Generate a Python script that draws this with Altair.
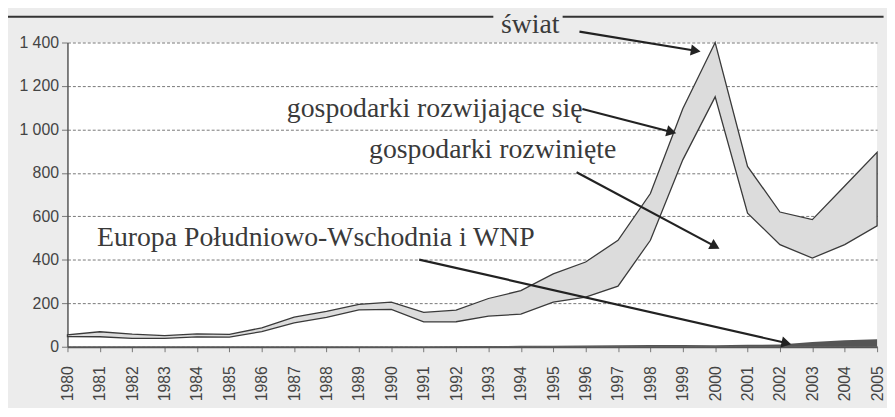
import altair as alt
import pandas as pd

# ---- data (bn USD) ----
years = list(range(1980, 2006))
world = [55, 69, 58, 51, 59, 57, 87, 136, 163, 195, 205, 158, 168, 222, 258, 335,
         390, 490, 705, 1095, 1400, 830, 620, 585, 740, 895]
developed = [47, 46, 38, 38, 45, 44, 70, 110, 135, 170, 172, 114, 113, 138, 146, 200,
             222, 272, 482, 852, 1143, 606, 460, 386, 440, 522]
see_cis = [0, 0, 0, 0, 0, 0, 0, 0, 0, 0, 0, 0, 2, 3, 4, 5,
           6, 7, 8, 8, 7, 9, 10, 22, 30, 34]

y_ticks = [0, 200, 400, 600, 800, 1000, 1200, 1400]

# annotation labels
label_text = ["świat", "gospodarki rozwijające się", "gospodarki rozwinięte",
              "Europa Południowo-Wschodnia i WNP"]
label_x = [1994.29, 1991.34, 1993.13, 1987.67]
label_y = [1480, 1094, 903, 502]

# arrows
arrow_x1 = [1995.81, 1995.90, 1995.72, 1990.86]
arrow_y1 = [1450, 1094, 803, 401]
arrow_x2 = [1999.40, 1998.65, 2000.00, 2002.20]
arrow_y2 = [1362, 988, 462, 17]
arrow_angle = [9.5, 14.9, 28, 12.8]

# top frame rule (interrupted by the "świat" label)
frame_x1 = [1978.13, 1995.29]
frame_x2 = [1993.15, 2005.2]
frame_y = [1518, 1518]

# ---- tables ----
df = pd.DataFrame({"year": years, "world": world, "developed": developed, "see": see_cis})
df["lower"] = df["developed"] + df["see"]
labels = pd.DataFrame({"text": label_text, "x": label_x, "y": label_y})
arrows = pd.DataFrame({"x1": arrow_x1, "y1": arrow_y1, "x2": arrow_x2, "y2": arrow_y2,
                       "angle": arrow_angle})
frame = pd.DataFrame({"x1": frame_x1, "x2": frame_x2, "y": frame_y})

xs = alt.Scale(domain=[1980, 2005], nice=False, zero=False)
ys = alt.Scale(domain=[0, 1400], nice=False)

x_axis = alt.Axis(values=years, format="d", labelAngle=270, title=None, grid=False,
                  tickSize=5, labelPadding=14, domainWidth=2, domainColor="#555",
                  labelOverlap=False, labelFlush=False)
y_axis = alt.Axis(values=y_ticks, title=None, grid=True, gridColor="#777",
                  gridDash=[3, 2], gridWidth=1, tickSize=6, labelPadding=3,
                  domainColor="#555", domainWidth=1.5, labelOverlap=False,
                  labelFlush=False,
                  labelExpr="replace(format(datum.value, ','), ',', ' ')")


def X(field):
    return alt.X(field, type="quantitative", scale=xs, axis=x_axis)


def Y(field):
    return alt.Y(field, type="quantitative", scale=ys, axis=y_axis)


band = alt.Chart(df).mark_area(fill="#dcdcdc", stroke="#3a3a3a", strokeWidth=1.3).encode(
    x=X("year"), y=Y("lower"), y2="world:Q",
)

see_area = alt.Chart(df).mark_area(color="#555555").encode(
    x=X("year"), y=Y("see"),
)

text = alt.Chart(labels).mark_text(font="Liberation Serif", fontSize=28, color="#3a3a3a",
                                   baseline="middle", align="center").encode(
    x=X("x"), y=Y("y"), text="text:N",
)

arrow_lines = alt.Chart(arrows).mark_rule(color="#222", strokeWidth=2.2).encode(
    x=X("x1"), y=Y("y1"), x2="x2:Q", y2="y2:Q",
)

arrow_heads = alt.Chart(arrows).mark_point(shape="triangle-right", filled=True,
                                           color="#222", size=130, opacity=1).encode(
    x=X("x2"), y=Y("y2"), angle=alt.Angle("angle:Q", scale=None),
)

frame_rule = alt.Chart(frame).mark_rule(color="#333", strokeWidth=2).encode(
    x=X("x1"), x2="x2:Q", y=Y("y"),
)

chart = alt.layer(band, see_area, frame_rule, arrow_lines, arrow_heads, text).properties(
    width=817, height=307,
    background="#ececec",
    autosize=alt.AutoSizeParams(type="none"),
    padding={"left": 60, "top": 33, "right": 10, "bottom": 60},
).configure_view(fill="white", strokeWidth=0).configure_axis(
    labelFont="Liberation Sans", labelFontSize=16, labelColor="#444",
    tickColor="#777",
)

chart.save("out.html", embed_options={"renderer": "svg", "actions": False})
